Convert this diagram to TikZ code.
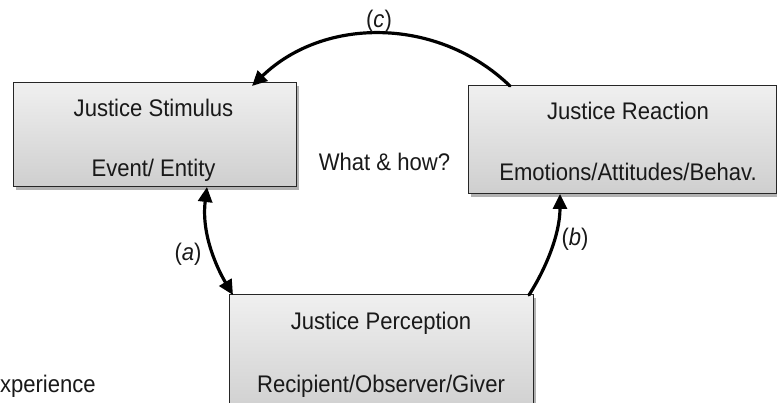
\documentclass[tikz,border=0pt]{standalone}
\usepackage{fontspec}
\setmainfont[FakeStretch=0.92]{Liberation Sans}
\usetikzlibrary{arrows.meta}
\begin{document}
\begin{tikzpicture}[x=1pt,y=-1pt,
  every node/.style={inner sep=0pt,outer sep=0pt},
  panel/.style={draw=black!85,line width=1pt,top color=gray!12,bottom color=gray!38,
    minimum width=#1,rectangle},
  shade/.style={fill=gray!60,draw=none},
  txt/.style={anchor=base,font=\fontsize{24}{28}\selectfont,text=black!90},
  lbl/.style={anchor=base,font=\fontsize{24}{28}\selectfont,text=black!90},
  flow/.style={line width=3.2pt,line cap=round},
  tip/.style={-{Triangle[length=15pt,width=14pt]}}
]
\useasboundingbox (0,0) rectangle (777,403);
\clip (0,0) rectangle (777,403);

% drop shadows under the three panels
\fill[shade] (16,86) rectangle (299,190);
\fill[shade] (471,89) rectangle (780,197);
\fill[shade] (232,298) rectangle (536,420);

% panels
\node[panel=283pt,minimum height=104pt] (stim) at (154.5,135) {};
\node[panel=308pt,minimum height=108pt] (react) at (622,140) {};
\node[panel=304pt,minimum height=120pt] (perc) at (381,355) {};

% panel texts
\node[txt] (stimA) at (153.5,116.7) {Justice Stimulus};
\node[txt] (stimB) at (153.5,177) {Event/ Entity};
\node[txt] (reactA) at (628,120) {Justice Reaction};
\node[txt] (reactB) at (628,181) {Emotions/Attitudes/Behav.};
\node[txt] (percA) at (381,330) {Justice Perception};
\node[txt] (percB) at (381,393) {Recipient/Observer/Giver};
\node[txt] (what) at (384.5,170.7) {What \& how?};
\node[txt,anchor=base west] (exp) at (0,392) {xperience};

% connectors
\coordinate (cStart) at ([xshift=42pt]react.north west);
\coordinate (cEnd) at ([xshift=239pt,yshift=-3pt]stim.north west);
\draw[flow,tip] (cStart) .. controls (438,16.5) and (324,16.5) .. (cEnd);

\coordinate (aTop) at ([xshift=194pt]stim.south west);
\coordinate (aBot) at ([xshift=4pt]perc.north west);
\draw[flow,{Triangle[length=15pt,width=14pt]}-{Triangle[length=15pt,width=14pt]}]
  (aTop) .. controls (201,235) and (218,270) .. (aBot);

\coordinate (bBot) at ([xshift=300pt]perc.north west);
\coordinate (bTop) at ([xshift=92pt]react.south west);
\draw[flow,tip] (bBot) .. controls (545,270) and (560,235) .. (bTop);

% connector labels
\node[lbl] (labC) at (379,28) {(\textit{c})};
\node[lbl] (labA) at (188,261) {(\textit{a})};
\node[lbl] (labB) at (575,246) {(\textit{b})};
\end{tikzpicture}
\end{document}
